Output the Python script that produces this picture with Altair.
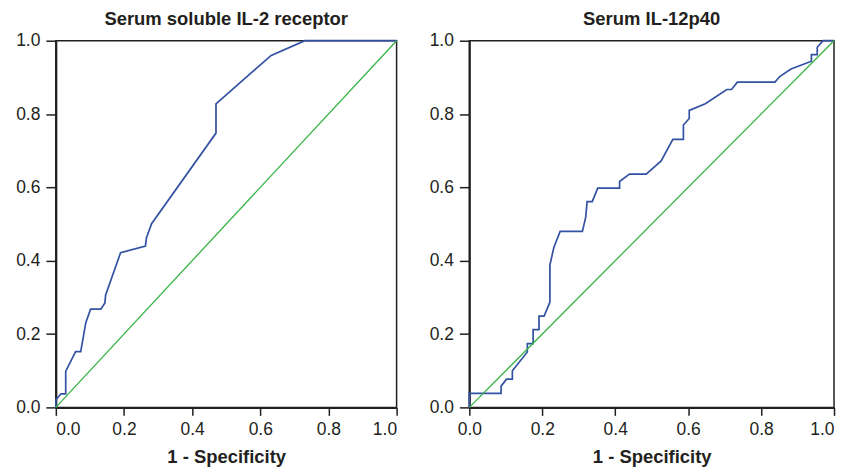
import altair as alt
import pandas as pd

titles = ["Serum soluble IL-2 receptor", "Serum IL-12p40"]
x_title = "1 - Specificity"
tick_vals = [0.0, 0.2, 0.4, 0.6, 0.8, 1.0]

# Panel 1: Serum soluble IL-2 receptor ROC curve
il2_fpr = [0.0, 0.0, 0.015, 0.029, 0.029, 0.058, 0.073, 0.088, 0.102, 0.132, 0.144,
           0.146, 0.19, 0.263, 0.266, 0.281, 0.47, 0.47, 0.632, 0.731, 1.0]
il2_tpr = [0.0, 0.02, 0.037, 0.037, 0.098, 0.152, 0.152, 0.231, 0.268, 0.268, 0.285,
           0.306, 0.422, 0.44, 0.463, 0.501, 0.748, 0.828, 0.96, 1.0, 1.0]

# Panel 2: Serum IL-12p40 ROC curve
il12_fpr = [0.0, 0.0, 0.087, 0.087, 0.102, 0.118, 0.118, 0.159, 0.159, 0.175, 0.175,
            0.191, 0.191, 0.205, 0.221, 0.221, 0.232, 0.249, 0.31, 0.319, 0.323, 0.337,
            0.352, 0.412, 0.412, 0.439, 0.485, 0.526, 0.558, 0.587, 0.587, 0.603, 0.603,
            0.647, 0.706, 0.719, 0.735, 0.838, 0.852, 0.882, 0.938, 0.938, 0.954, 0.954,
            0.97, 1.0]
il12_tpr = [0.0, 0.038, 0.038, 0.058, 0.077, 0.077, 0.1, 0.151, 0.174, 0.174, 0.212,
            0.212, 0.249, 0.249, 0.287, 0.389, 0.437, 0.48, 0.48, 0.518, 0.561, 0.561,
            0.598, 0.598, 0.616, 0.636, 0.636, 0.672, 0.731, 0.731, 0.77, 0.788, 0.81,
            0.828, 0.867, 0.867, 0.887, 0.887, 0.903, 0.923, 0.944, 0.962, 0.962, 0.982,
            1.0, 1.0]

# Chance diagonal
diag = [0.0, 1.0]

BLUE = "#3352a3"
GREEN = "#35b345"
INK = "#231f20"
FONT = "Liberation Sans"


def panel(fpr, tpr, title, width, last_panel=False):
    roc = pd.DataFrame({"fpr": fpr, "tpr": tpr, "i": list(range(len(fpr)))})
    ref = pd.DataFrame({"fpr": diag, "tpr": diag, "i": [0, 1]})
    xs = alt.Scale(domain=[0, 1], nice=False, zero=False)
    ys = alt.Scale(domain=[0, 1], nice=False, zero=False)
    xkw = dict(values=tick_vals, format=".1f", title=x_title, tickSize=8,
               labelPadding=5, titlePadding=10, titleFontSize=18.5,
               titleFontWeight="bold")
    if last_panel:
        xkw["labelAlign"] = {"condition": {"test": "datum.value >= 1", "value": "right"},
                             "value": "center"}
    xax = alt.Axis(**xkw)
    yax = alt.Axis(values=tick_vals, format=".1f", title=None, tickSize=10,
                   labelPadding=6, minExtent=42)
    curve = alt.Chart(roc).mark_line(color=BLUE, strokeWidth=1.7).encode(
        x=alt.X("fpr:Q", scale=xs, axis=xax),
        y=alt.Y("tpr:Q", scale=ys, axis=yax),
        order="i:Q",
    )
    chance = alt.Chart(ref).mark_line(color=GREEN, strokeWidth=1.3).encode(
        x=alt.X("fpr:Q", scale=xs),
        y=alt.Y("tpr:Q", scale=ys),
        order="i:Q",
    )
    return alt.layer(curve, chance).properties(
        width=width, height=368,
        title=alt.Title(title, fontSize=18.5, fontWeight="bold", font=FONT,
                        color=INK, anchor="middle", offset=3),
    )


chart = alt.hconcat(
    panel(il2_fpr, il2_tpr, titles[0], 342),
    panel(il12_fpr, il12_tpr, titles[1], 366, last_panel=True),
    spacing=73,
    bounds="flush",
).properties(
    padding={"left": 5, "top": 0, "right": 0, "bottom": 0}
).configure_view(
    stroke=INK, strokeWidth=1.5
).configure_axis(
    grid=False, domainColor=INK, domainWidth=2, tickColor=INK, tickWidth=1.5,
    labelFont=FONT, labelFontSize=17.5, labelColor=INK, titleFont=FONT, titleColor=INK,
)

chart.save("out.html", embed_options={"renderer": "svg", "actions": False})
